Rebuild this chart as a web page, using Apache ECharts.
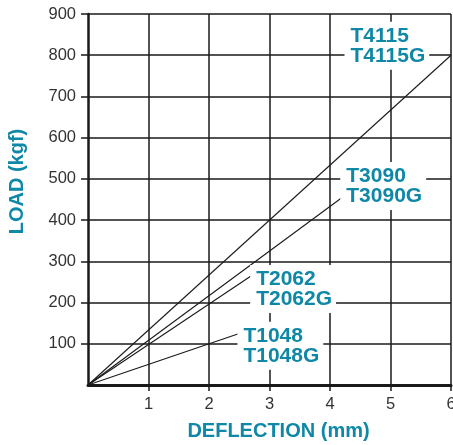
<!DOCTYPE html>
<html>
<head>
<meta charset="utf-8">
<script src="https://cdn.jsdelivr.net/npm/echarts@6/dist/echarts.min.js"></script>
<style>html,body{margin:0;padding:0;background:#fff}#c{width:453px;height:445px}</style>
</head>
<body>
<div id="c"></div>
<script>
// Data
var seriesNames = ['T4115', 'T3090', 'T2062', 'T1048'];
var labelTexts = ['T4115\nT4115G', 'T3090\nT3090G', 'T2062\nT2062G', 'T1048\nT1048G'];
var lineEnds = [[6, 800], [4.2, 455], [2.75, 270], [2.5, 125]];
var labelAnchors = [[4.24, 823], [4.17, 483], [2.68, 233], [2.47, 95]];
var xTicks = [1, 2, 3, 4, 5, 6];
var yTicks = [100, 200, 300, 400, 500, 600, 700, 800, 900];

var teal = '#0f87a7';
var font = 'Liberation Sans, Arial, sans-serif';
var chart = echarts.init(document.getElementById('c'), null, {renderer: 'canvas'});

var series = seriesNames.map(function (name, i) {
  return {
    name: name,
    type: 'line',
    data: [[0, 0], lineEnds[i]],
    symbol: 'none',
    lineStyle: {color: '#1a1a1a', width: 1.1},
    z: 3,
    markPoint: {
      symbol: 'circle',
      symbolSize: 0,
      silent: true,
      data: [{coord: labelAnchors[i], value: labelTexts[i]}],
      label: {
        show: true,
        position: 'inside',
        align: 'left',
        verticalAlign: 'middle',
        formatter: function (p) { return p.value; },
        color: teal,
        fontFamily: font,
        fontWeight: 'bold',
        fontSize: 21,
        lineHeight: 20,
        backgroundColor: '#fff',
        padding: [4, 4, 4, 6]
      }
    }
  };
});

chart.setOption({
  animation: false,
  backgroundColor: '#fff',
  grid: {left: 88, right: 2, top: 14, bottom: 60, containLabel: false, outerBoundsMode: 'none'},
  xAxis: {
    type: 'value', min: 0, max: 6, interval: 1,
    name: 'DEFLECTION (mm)', nameLocation: 'middle', nameGap: 36,
    nameTextStyle: {color: teal, fontWeight: 'bold', fontSize: 20, fontFamily: font, padding: [0, 0, 0, 18]},
    axisLine: {show: true, lineStyle: {color: '#1a1a1a', width: 3}},
    axisTick: {show: true, length: 6, customValues: xTicks, lineStyle: {color: '#1a1a1a', width: 1.5}},
    axisLabel: {margin: 11, color: '#333', fontSize: 16.5, fontFamily: font, customValues: xTicks},
    splitLine: {show: true, lineStyle: {color: '#1a1a1a', width: 1.5}}
  },
  yAxis: {
    type: 'value', min: 0, max: 900, interval: 100,
    name: 'LOAD (kgf)', nameLocation: 'middle', nameGap: 61,
    nameTextStyle: {color: teal, fontWeight: 'bold', fontSize: 20, fontFamily: font, padding: [0, 0, 0, 36]},
    axisLine: {show: true, lineStyle: {color: '#1a1a1a', width: 2.5}},
    axisTick: {show: true, length: 7, customValues: yTicks, lineStyle: {color: '#1a1a1a', width: 1.5}},
    axisLabel: {margin: 12, color: '#333', fontSize: 16.5, fontFamily: font, customValues: yTicks},
    splitLine: {show: true, lineStyle: {color: '#1a1a1a', width: 1.5}}
  },
  series: series
});
</script>
</body>
</html>
